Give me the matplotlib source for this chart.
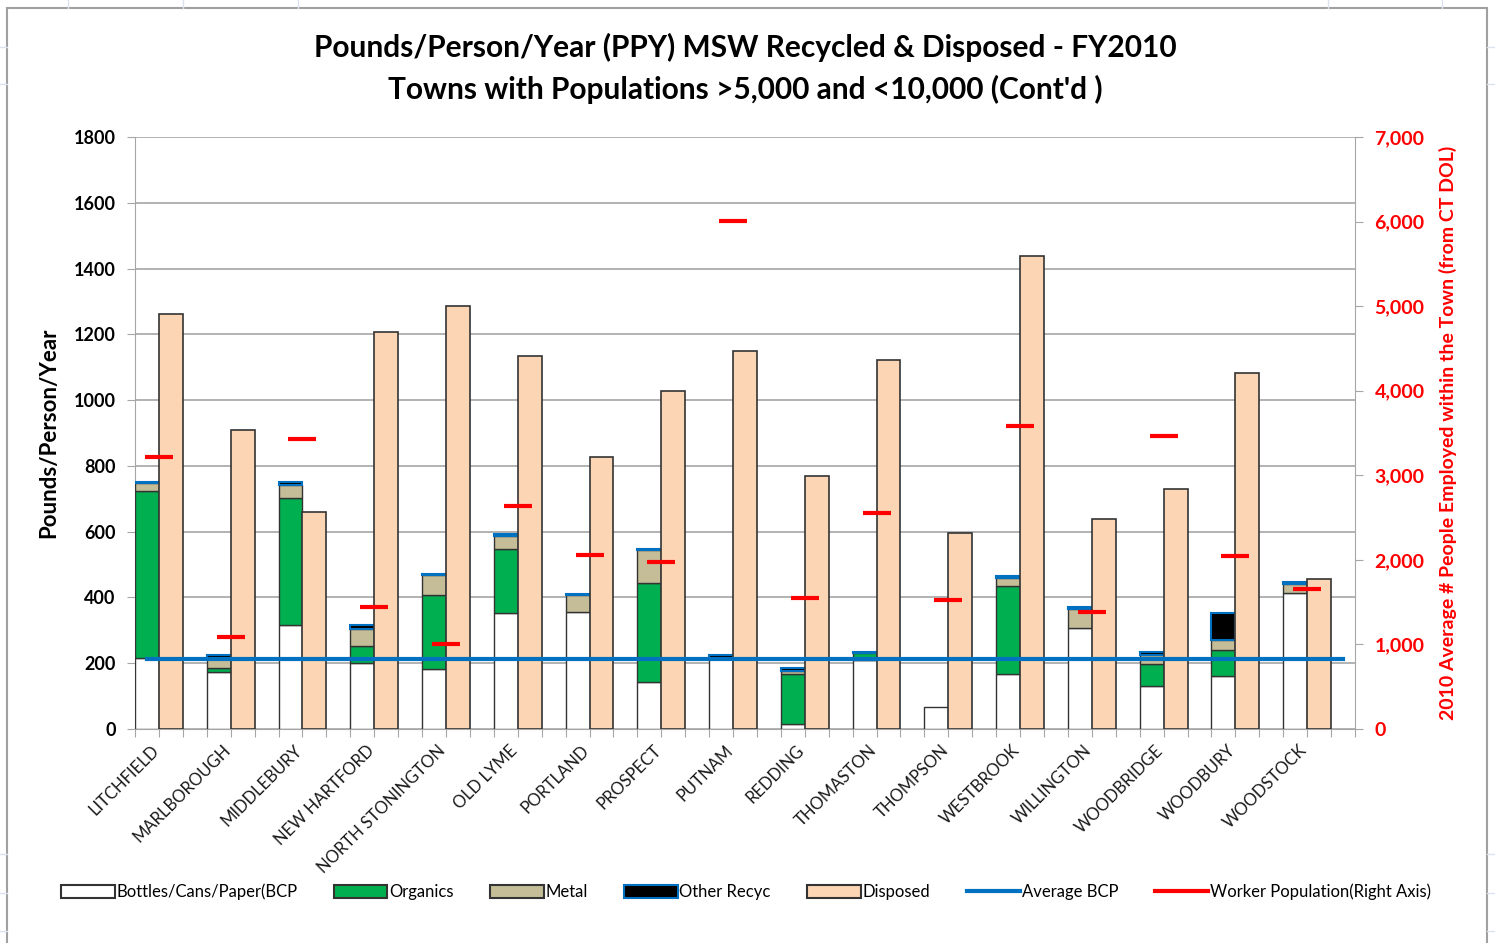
import numpy as np
import matplotlib
matplotlib.use("Agg")
import matplotlib.pyplot as plt
from matplotlib.patches import Rectangle, Patch
from matplotlib.lines import Line2D
from matplotlib.ticker import FuncFormatter, MultipleLocator

plt.rcParams['font.family'] = ['Lato', 'DejaVu Sans']

# towns (each takes 3 slots on the category axis: recycled stack, disposed, gap)
towns = ["LITCHFIELD", "MARLBOROUGH", "MIDDLEBURY", "NEW HARTFORD", "NORTH STONINGTON",
         "OLD LYME", "PORTLAND", "PROSPECT", "PUTNAM", "REDDING", "THOMASTON",
         "THOMPSON", "WESTBROOK", "WILLINGTON", "WOODBRIDGE", "WOODBURY", "WOODSTOCK"]

# pounds/person/year
bcp      = [217, 172, 316, 200, 181, 353, 357, 144, 214, 14, 210, 67, 166, 306, 131, 162, 413]
organics = [507, 14, 385, 52, 226, 195, 0, 299, 0, 152, 22, 0, 268, 0, 66, 78, 0]
metal    = [24, 29, 41, 51, 60, 40, 49, 100, 0, 10, 0, 0, 26, 58, 28, 30, 29]
other    = [3, 11, 9, 14, 3, 4, 5, 5, 11, 9, 3, 0, 5, 7, 10, 84, 5]
disposed = [1262, 909, 661, 1208, 1286, 1135, 828, 1029, 1149, 769, 1122, 597,
            1438, 638, 729, 1081, 457]
avg_bcp = 213
# 2010 average people employed in town (right axis)
workers = [3220, 1088, 3433, 1443, 1001, 2637, 2057, 1971, 6008, 1545, 2551, 1529,
           3586, 1388, 3468, 2042, 1656]

n = len(towns)
idx = np.arange(n)
x_stack = 3 * idx + 0.5
x_disp = 3 * idx + 1.5
x_work = 3 * idx + 1.0

fig = plt.figure(figsize=(14.95, 9.43), dpi=100)
W, H = 1495, 943

# spreadsheet lines behind the chart object
for xv in [68, 183, 298, 1328, 1442]:
    fig.add_artist(Line2D([xv / W, xv / W], [1 - 8 / H, 1], color='#DCE3F0', lw=1))
for yv in [47, 84, 854, 893, 931]:
    fig.add_artist(Line2D([0, 7 / W], [1 - yv / H, 1 - yv / H], color='#DCE3F0', lw=1))
    fig.add_artist(Line2D([1487 / W, 1], [1 - yv / H, 1 - yv / H], color='#DCE3F0', lw=1))
# chart border
fig.add_artist(Rectangle((7 / W, -0.01), (1487 - 7) / W, 1 - 8 / H + 0.01,
                         transform=fig.transFigure, fill=False, ec='#A0A0A0', lw=1.5))

ax = fig.add_axes([135 / W, 1 - 729 / H, (1355 - 135) / W, (729 - 137) / H])
ax2 = ax.twinx()

ec = '#333333'


def stack(vals, bottom, **kw):
    vals = np.asarray(vals, dtype=float)
    m = vals > 0
    ax.bar(x_stack[m], vals[m], width=1, bottom=bottom[m], zorder=3, **kw)
    return bottom + vals


bot = np.zeros(n)
bot = stack(bcp, bot, color='white', edgecolor=ec, lw=1)
bot = stack(organics, bot, color='#00B050', edgecolor=ec, lw=1)
bot = stack(metal, bot, color='#C4BD97', edgecolor=ec, lw=1)
bot = stack(other, bot, color='black', edgecolor='#0070C0', lw=1.5)
ax.bar(x_disp, disposed, width=1, color='#FCD5B4', edgecolor=ec, lw=1.2, zorder=3)

ax.plot([0.5, 3 * n - 0.5], [avg_bcp, avg_bcp], color='#0070C0', lw=3, zorder=5)

ax2.plot(x_work, workers, ls='none', marker='_', ms=19.5, mew=3, color='#FF0000', zorder=6)

ax.set_xlim(0, 3 * n)
ax.set_ylim(0, 1800)
ax2.set_ylim(0, 7000)
ax.yaxis.set_major_locator(MultipleLocator(200))
ax2.yaxis.set_major_locator(MultipleLocator(1000))
ax2.yaxis.set_major_formatter(FuncFormatter(lambda v, p: f"{int(v):,}"))

ax.grid(axis='y', color='#A6A6A6', lw=1.2, zorder=0)
ax.set_axisbelow(True)
for a in (ax, ax2):
    for s in a.spines.values():
        s.set_visible(False)
ax.spines['left'].set_visible(True)
ax.spines['left'].set_color('#A6A6A6')
ax.spines['bottom'].set_visible(True)
ax.spines['bottom'].set_color('#A6A6A6')
ax2.spines['right'].set_visible(True)
ax2.spines['right'].set_color('#A6A6A6')

ax.set_xticks(np.arange(0, 3 * n + 1))
ax.set_xticklabels([])
ax.tick_params(axis='x', length=6, color='#A6A6A6', direction='out')
ax.tick_params(axis='y', length=6, color='#A6A6A6', labelsize=13, pad=8)
ax2.tick_params(axis='y', length=6, color='#A6A6A6', labelsize=14, labelcolor='#FF0000', pad=8)
for lab in ax.get_yticklabels():
    lab.set_fontweight('bold')
for lab in ax2.get_yticklabels():
    lab.set_fontweight('bold')

for i, t in enumerate(towns):
    ax.text(x_stack[i] + 0.15, -40, t, rotation=45, ha='right', va='top',
            rotation_mode='anchor', fontsize=12, color='#1a1a1a')

ax.set_ylabel("Pounds/Person/Year", fontsize=16, fontweight='bold', labelpad=10)
ax2.set_ylabel("2010 Average # People Employed within the Town (from CT DOL)",
               fontsize=14, fontweight='bold', color='#FF0000', labelpad=10)

fig.text(745 / W, 1 - 47 / H, "Pounds/Person/Year (PPY) MSW Recycled & Disposed - FY2010",
         ha='center', va='center', fontsize=21.5, fontweight='bold')
fig.text(745 / W, 1 - 89 / H, "Towns with Populations >5,000 and <10,000 (Cont'd )",
         ha='center', va='center', fontsize=21.5, fontweight='bold')

handles = [
    Patch(facecolor='white', edgecolor=ec, lw=1.5),
    Patch(facecolor='#00B050', edgecolor=ec, lw=1.5),
    Patch(facecolor='#C4BD97', edgecolor=ec, lw=1.5),
    Patch(facecolor='black', edgecolor='#0070C0', lw=1.5),
    Patch(facecolor='#FCD5B4', edgecolor=ec, lw=1.5),
    Line2D([], [], color='#0070C0', lw=3),
    Line2D([], [], color='#FF0000', lw=3),
]
labels = ["Bottles/Cans/Paper(BCP", "Organics", "Metal", "Other Recyc", "Disposed",
          "Average BCP", "Worker Population(Right Axis)"]
fig.legend(handles, labels, loc='center', bbox_to_anchor=(746 / W, 1 - 892 / H), ncol=7,
           frameon=False, fontsize=12, handlelength=3.2, handleheight=0.9,
           handletextpad=0.1, columnspacing=2.2)

fig.savefig("out.png", dpi=100, facecolor='white')
